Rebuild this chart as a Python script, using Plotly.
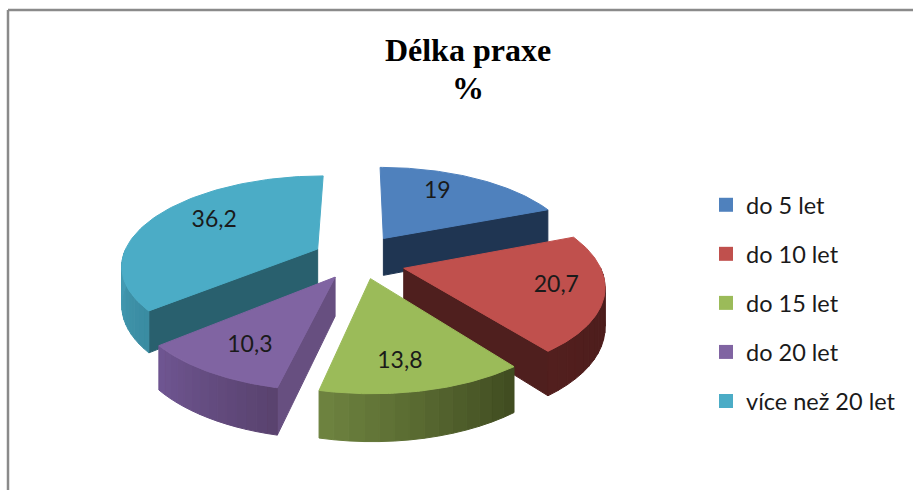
import numpy as np
import plotly.graph_objects as go

categories = ["do 5 let", "do 10 let", "do 15 let", "do 20 let", "více než 20 let"]
values = [19, 20.7, 13.8, 10.3, 36.2]
value_labels = ["19", "20,7", "13,8", "10,3", "36,2"]
colors = ["#4f81bd", "#c0504d", "#9bbb59", "#8064a2", "#4bacc6"]
wall_colors = ["#1f3552", "#4f1f1e", "#46552a", "#674f80", "#29606e"]
rim_left = ["#1f3552", "#521f1e", "#6f8440", "#6f5692", "#459db5"]
rim_right = ["#1f3552", "#4a1c1b", "#3f4b20", "#59426e", "#3a8ba1"]
draw_order = [0, 4, 1, 3, 2]
slice_nudges = [(2, -6), (4, 3), (3, -1), (0, 0), (-2, -3)]
label_nudges = [(-10, -8), (18, 3), (-3, 9), (-1, 6), (9, -7)]

CX, CY = 358, 260
SX, SY, PERSP = 195, 88, 0.17
PULL, DEPTH, LABEL_R = 0.22, 38, 0.7


def project(x, y, drop=0.0):
    s = 1 / (1 + PERSP * y)
    return CX + SX * x * s, CY - SY * y * s + drop * s


def shade(c1, c2, t):
    a = [int(c1[i:i + 2], 16) for i in (1, 3, 5)]
    b = [int(c2[i:i + 2], 16) for i in (1, 3, 5)]
    return "rgb(%d,%d,%d)" % tuple(round(p + (q - p) * t) for p, q in zip(a, b))


def poly(xs, ys, color):
    return go.Scatter(x=list(xs), y=list(ys), mode="lines", fill="toself", fillcolor=color,
                      line=dict(color=color, width=1), showlegend=False, hoverinfo="skip")


total = sum(values)
edges = np.concatenate([[0], np.cumsum(values)]) / total * 2 * np.pi
fig = go.Figure()
labels_x, labels_y = [], []

for i in draw_order:
    a0, a1 = edges[i], edges[i + 1]
    mid = (a0 + a1) / 2
    nx, ny = slice_nudges[i]
    ox, oy = PULL * np.sin(mid), PULL * np.cos(mid)
    th = np.linspace(a0, a1, 80)
    ax, ay = ox + np.sin(th), oy + np.cos(th)

    # cut walls facing the viewer
    for edge, visible in ((a0, np.sin(a0) < -1e-6), (a1, np.cos(a1 + np.pi / 2) < -1e-6)):
        if visible:
            ex, ey = ox + np.sin(edge), oy + np.cos(edge)
            xs, ys = [], []
            for px, py, d in ((ox, oy, 0), (ex, ey, 0), (ex, ey, DEPTH), (ox, oy, DEPTH)):
                u, v = project(px, py, d)
                xs.append(u + nx)
                ys.append(v + ny)
            fig.add_trace(poly(xs + xs[:1], ys + ys[:1], wall_colors[i]))

    # outer rim, split in bands so that it darkens from left to right
    lo, hi = max(a0, np.pi / 2), min(a1, 1.5 * np.pi)
    if hi > lo:
        bands = np.linspace(lo, hi, 15)
        for k in range(14):
            t = np.linspace(bands[k], bands[k + 1], 8)
            rx, ry = ox + np.sin(t), oy + np.cos(t)
            ux, uy = project(rx, ry)
            dx, dy = project(rx, ry, DEPTH)
            f = ((bands[k] + bands[k + 1]) / 2 - lo) / (hi - lo)
            fig.add_trace(poly(np.r_[ux, dx[::-1], ux[:1]] + nx, np.r_[uy, dy[::-1], uy[:1]] + ny,
                               shade(rim_right[i], rim_left[i], f)))

    # top face
    tx, ty = project(np.r_[ox, ax, ox], np.r_[oy, ay, oy])
    fig.add_trace(poly(tx + nx, ty + ny, colors[i]))

    lx, ly = project(ox + LABEL_R * np.sin(mid), oy + LABEL_R * np.cos(mid))
    labels_x.append(lx + label_nudges[i][0])
    labels_y.append(ly + label_nudges[i][1])

ordered_text = [value_labels[i] for i in draw_order]
fig.add_trace(go.Scatter(x=labels_x, y=labels_y, mode="text", text=ordered_text,
                         textfont=dict(family="Lato", size=23, color="#1a1a1a"),
                         showlegend=False, hoverinfo="skip"))

for name, col in zip(categories, colors):
    fig.add_trace(go.Scatter(x=[None], y=[None], mode="markers", name=name, legendgroup=name,
                             marker=dict(symbol="square", size=14, color=col)))

title_font = dict(family="Liberation Serif", size=32, color="#000000", weight="bold")
fig.update_layout(
    width=913, height=490, margin=dict(l=0, r=0, t=0, b=0),
    paper_bgcolor="white", plot_bgcolor="white",
    xaxis=dict(range=[0, 913], visible=False, fixedrange=True),
    yaxis=dict(range=[490, 0], visible=False, fixedrange=True),
    title=dict(text="Délka praxe", x=468 / 913, xanchor="center", y=1 - 39 / 490, yanchor="top",
               font=title_font),
    annotations=[dict(text="%", x=468, y=88, xref="x", yref="y", showarrow=False, font=title_font)],
    legend=dict(x=706 / 913, y=1 - 183 / 490, xanchor="left", yanchor="top",
                font=dict(family="Lato", size=23.5, color="#1a1a1a"),
                tracegroupgap=15.5, itemwidth=30, bgcolor="rgba(0,0,0,0)"),
    shapes=[dict(type="line", x0=8, x1=8, y0=10, y1=490, line=dict(color="#8a8a8a", width=2.5)),
            dict(type="line", x0=8, x1=913, y0=10, y1=10, line=dict(color="#8a8a8a", width=2.5))],
)
fig.write_html("out.html", config={"displayModeBar": False},
               post_script="document.body.style.margin='0';document.documentElement.style.overflow='hidden';window.dispatchEvent(new Event('resize'));")
